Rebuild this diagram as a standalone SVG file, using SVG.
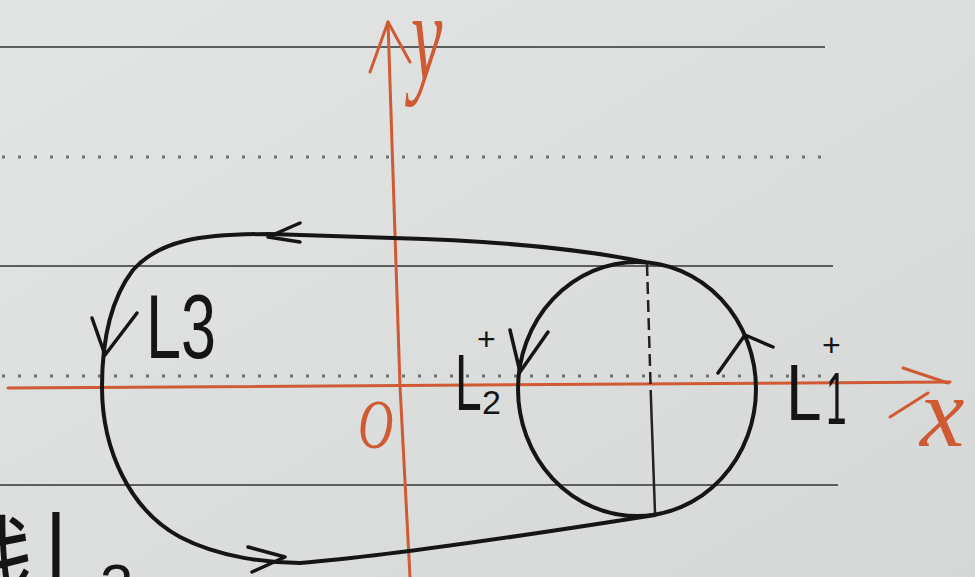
<svg xmlns="http://www.w3.org/2000/svg" width="975" height="577" viewBox="0 0 975 577">
<defs>
<linearGradient id="paper" x1="0" y1="0" x2="1" y2="1">
<stop offset="0" stop-color="#e3e5e4"/>
<stop offset="1" stop-color="#d6d8d7"/>
</linearGradient>
<style>
.rule{stroke:#5c5e5e;stroke-width:2;fill:none}
.dot{stroke:#6e7070;stroke-width:3;stroke-dasharray:3 13;fill:none}
.red{stroke:#cf5a33;stroke-width:3;fill:none;stroke-linecap:round;stroke-linejoin:round}
.ink{stroke:#151515;stroke-width:4;fill:none;stroke-linecap:round;stroke-linejoin:round}
.arr{stroke:#151515;stroke-width:3.5;fill:none;stroke-linecap:round;stroke-linejoin:round}
.lbl{font-family:"Liberation Sans","Noto Sans CJK SC",sans-serif;fill:#151515}
.rlbl{font-family:"Liberation Serif",serif;font-style:italic;fill:#cf5a33}
</style>
</defs>
<rect width="975" height="577" fill="url(#paper)"/>
<g id="paper-lines">
<line class="rule" x1="0" y1="47" x2="825" y2="47"/>
<line class="dot" x1="2" y1="157" x2="830" y2="157"/>
<line class="rule" x1="0" y1="266" x2="833" y2="266"/>
<line class="dot" x1="2" y1="376" x2="838" y2="376"/>
<line class="rule" x1="0" y1="485" x2="838" y2="485"/>
</g>
<g id="axes">
<path class="red" d="M8,388 L950,382"/>
<path class="red" d="M903,368 L948,383 M890,417 L928,393"/>
<path class="red" d="M388,22 L400,386 L410,577"/>
<path class="red" d="M370,72 L388,22 L410,62"/>
<text class="rlbl" transform="translate(411,80) scale(0.55,1)" font-size="128">y</text>
<text class="rlbl" x="920" y="446" font-size="100">x</text>
<text class="rlbl" transform="translate(358,448) scale(0.7,1)" font-size="70">O</text>
</g>
<g id="connectors">
<path id="L3" class="ink" d="M645,262 C560,245 470,240 393,238 L270,234 C200,234 160,240 133,270 C110,300 102,340 102,387 C102,450 130,510 180,537 C220,558 270,563 300,563 C400,555 560,530 655,515"/>
<path class="arr" d="M300,223 L268,237 L300,242"/>
<path class="arr" d="M92,318 L105,355 L137,313"/>
<path class="arr" d="M248,547 L285,557 L252,572"/>
</g>
<g id="circle">
<ellipse class="ink" cx="637" cy="389" rx="119" ry="127"/>
<path d="M647,264 L651,400" stroke="#222" stroke-width="2.5" stroke-dasharray="12 6" fill="none"/>
<path d="M651,400 L655,513" stroke="#222" stroke-width="2.5" fill="none"/>
<path class="arr" d="M510,330 L520,372 L548,332"/>
<path class="arr" d="M718,373 L745,335 L773,347"/>
</g>
<g id="label-L3">
<text class="lbl" transform="translate(146,358) scale(0.7,1)" font-size="90">L3</text>
</g>
<g id="label-L2">
<text class="lbl" transform="translate(455,410) scale(0.6,1)" font-size="80">L</text>
<text class="lbl" x="482" y="414" font-size="34">2</text>
<text class="lbl" x="477" y="350" font-size="32">+</text>
</g>
<g id="label-L1">
<text class="lbl" transform="translate(786,420) scale(0.8,1)" font-size="80">L</text>
<text class="lbl" transform="translate(826,424) scale(0.5,1)" font-size="74">1</text>
<text class="lbl" x="822" y="356" font-size="32">+</text>
</g>
<g id="label-bottom">
<text class="lbl" transform="translate(-48,606) scale(0.9,1.2)" font-size="90">线</text>
<text class="lbl" transform="translate(46,604) scale(1.1,1.9)" font-size="70">L</text>
<text class="lbl" x="100" y="606" font-size="60">3</text>
</g>
</svg>
